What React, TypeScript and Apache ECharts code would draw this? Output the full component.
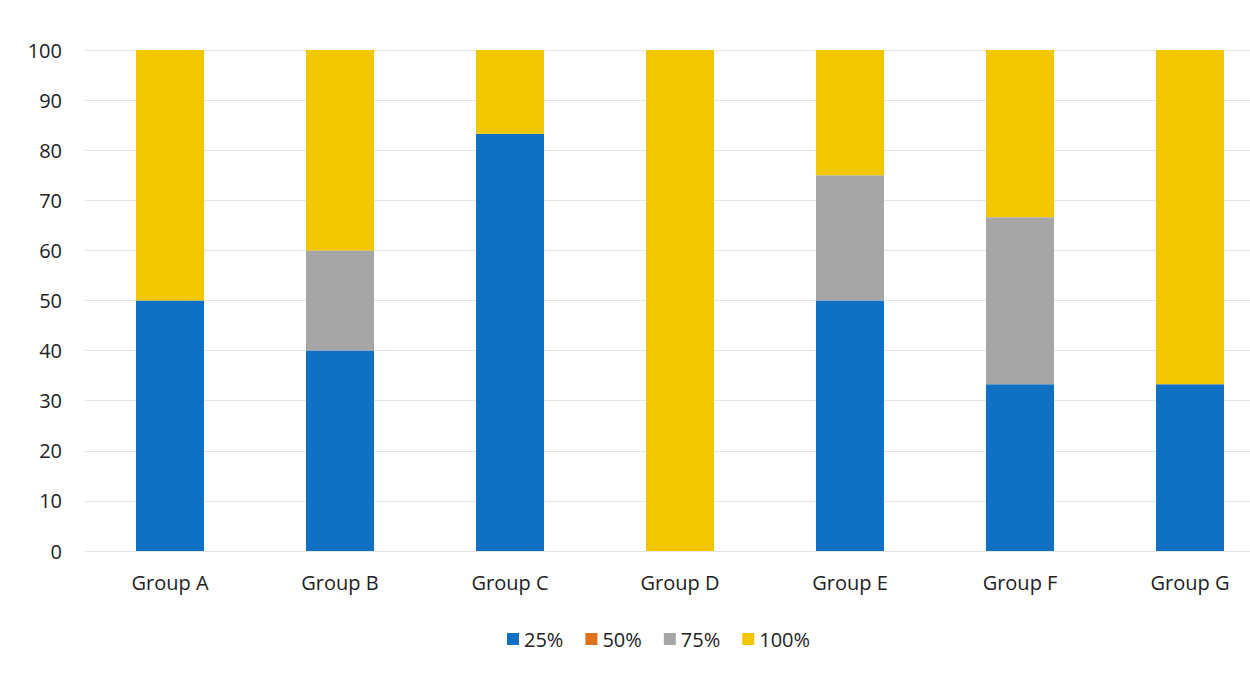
import React, { useEffect, useRef } from "react";
import * as echarts from "echarts";

const categories = ["Group A", "Group B", "Group C", "Group D", "Group E", "Group F", "Group G"];
const seriesNames = ["25%", "50%", "75%", "100%"];
const s25 = [50, 40, 83.3, 0, 50, 33.3, 33.3];
const s50 = [0, 0, 0, 0, 0, 0, 0];
const s75 = [0, 20, 0, 0, 25, 33.3, 0];
const s100 = [50, 40, 16.7, 100, 25, 33.4, 66.7];
const colors = ["#1070C4", "#E2711D", "#A6A6A6", "#F2C700"];

export default function App() {
  const ref = useRef<HTMLDivElement>(null);
  useEffect(() => {
    const chart = echarts.init(ref.current!, null, { renderer: "svg" });
    const font = "'Open Sans', 'Liberation Sans', sans-serif";
    const values = [s25, s50, s75, s100];
    chart.setOption({
      animation: false,
      backgroundColor: "#ffffff",
      color: colors,
      textStyle: { fontFamily: font },
      grid: { left: 85, right: 5, top: 50, bottom: 122 },
      legend: {
        top: 624,
        left: 502,
        itemWidth: 12,
        itemHeight: 12,
        itemGap: 22,
        icon: "rect",
        textStyle: { fontSize: 20, color: "#222", fontFamily: font },
        data: seriesNames,
      },
      xAxis: {
        type: "category",
        data: categories,
        axisLine: { show: false },
        axisTick: { show: false },
        axisLabel: { fontSize: 20, color: "#222", margin: 21, fontFamily: font },
      },
      yAxis: {
        type: "value",
        min: 0,
        max: 100,
        interval: 10,
        axisLine: { show: false },
        axisTick: { show: false },
        axisLabel: { fontSize: 20, color: "#222", margin: 23, fontFamily: font },
        splitLine: { lineStyle: { color: "#e6e6e6", width: 1 } },
      },
      series: seriesNames.map((n, i) => ({
        name: n,
        type: "bar",
        stack: "total",
        barWidth: 68,
        data: values[i],
        itemStyle: { color: colors[i] },
      })),
    });
    return () => chart.dispose();
  }, []);
  return (
    <div
      style={{
        position: "fixed",
        left: 0,
        top: 0,
        width: 1250,
        height: 673,
        overflow: "hidden",
        background: "#fff",
      }}
    >
      <div ref={ref} style={{ width: 1280, height: 673 }} />
    </div>
  );
}
